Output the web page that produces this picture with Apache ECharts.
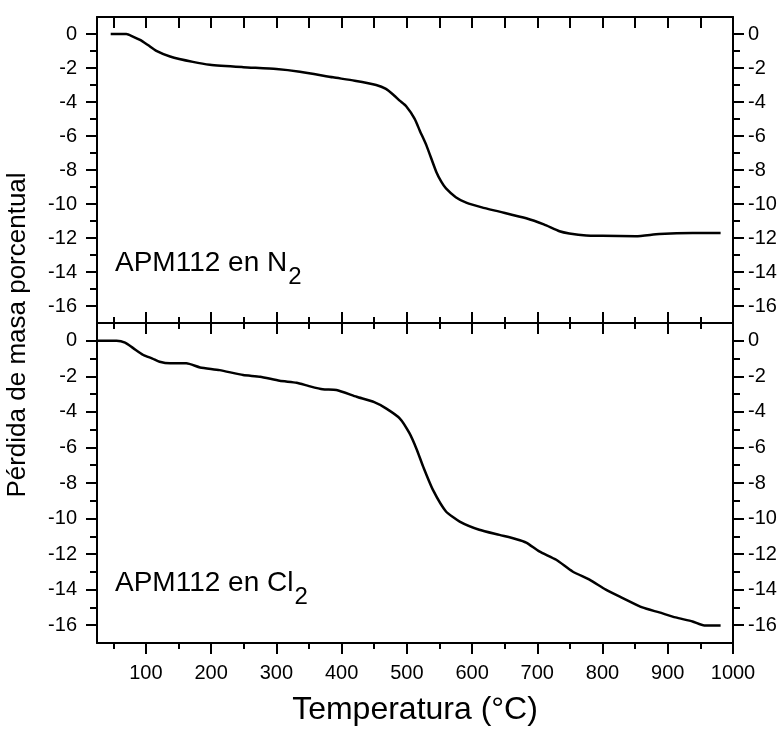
<!DOCTYPE html>
<html>
<head>
<meta charset="utf-8">
<script src="https://cdn.jsdelivr.net/npm/echarts@6/dist/echarts.min.js"></script>
<style>
  html, body { margin: 0; padding: 0; background: #fff; }
  #chart { width: 780px; height: 731px; }
</style>
</head>
<body>
<div id="chart"></div>
<script>
// datos
const tempN2 = [46, 70, 80, 91, 103, 116, 137, 172, 198, 249, 300, 336, 387, 420, 453, 468, 480, 489, 499, 512, 520, 530, 545, 553, 560, 575, 591, 615, 642, 683, 710, 734, 749, 775, 800, 851, 887, 938, 981];
const massN2 = [0, 0, -0.15, -0.35, -0.65, -0.99, -1.32, -1.64, -1.81, -1.95, -2.06, -2.22, -2.55, -2.75, -3.0, -3.23, -3.6, -3.92, -4.25, -4.99, -5.7, -6.55, -8.1, -8.7, -9.08, -9.6, -9.92, -10.2, -10.45, -10.84, -11.2, -11.6, -11.73, -11.85, -11.87, -11.9, -11.77, -11.71, -11.71];

const tempCl2 = [25, 55, 68, 80, 96, 110, 121, 137, 162, 183, 213, 249, 275, 305, 331, 350, 371, 392, 423, 450, 468, 489, 504, 515, 525, 540, 560, 581, 611, 642, 668, 683, 703, 729, 754, 780, 805, 831, 861, 887, 912, 938, 956, 981];
const massCl2 = [0, 0, -0.1, -0.4, -0.8, -1.0, -1.18, -1.27, -1.27, -1.5, -1.65, -1.93, -2.02, -2.25, -2.36, -2.55, -2.73, -2.77, -3.15, -3.45, -3.8, -4.36, -5.2, -6.1, -7.08, -8.39, -9.6, -10.17, -10.63, -10.92, -11.16, -11.35, -11.85, -12.32, -12.98, -13.44, -14.0, -14.47, -15.0, -15.28, -15.56, -15.79, -16.01, -16.01];

const xTicks = [100, 200, 300, 400, 500, 600, 700, 800, 900, 1000];
const xMinorTicks = [50, 150, 250, 350, 450, 550, 650, 750, 850, 950];
const yTicks = [0, -2, -4, -6, -8, -10, -12, -14, -16];
const yMinorTicks = [-1, -3, -5, -7, -9, -11, -13, -15];

const font = "'Liberation Sans', Arial, sans-serif";
const black = '#000';

const chart = echarts.init(document.getElementById('chart'));

function xAx(grid, pos, opts) {
  return {
    type: 'value',
    gridIndex: grid,
    position: pos,
    min: 25,
    max: 1000,
    splitLine: { show: false },
    axisLine: { show: !!opts.line, onZero: false, lineStyle: { color: black, width: 2 } },
    axisTick: {
      show: true,
      inside: !!opts.inside,
      length: opts.len,
      customValues: opts.ticks,
      lineStyle: { color: black, width: 2 }
    },
    axisLabel: opts.labels
      ? {
          show: true, customValues: xTicks, color: black, fontSize: 20, fontFamily: font, margin: 20,
          formatter: (v) => String(v)
        }
      : { show: false },
    ...(opts.extra || {})
  };
}

function yAx(grid, pos, opts) {
  return {
    type: 'value',
    gridIndex: grid,
    position: pos,
    min: -17,
    max: 1,
    splitLine: { show: false },
    axisLine: { show: !!opts.line, onZero: false, lineStyle: { color: black, width: 2 } },
    axisTick: {
      show: true,
      length: opts.len,
      customValues: opts.ticks,
      lineStyle: { color: black, width: 2 }
    },
    axisLabel: opts.labels
      ? { show: true, customValues: yTicks, color: black, fontSize: 20, fontFamily: font, margin: pos === 'left' ? 20 : 15 }
      : { show: false }
  };
}

const option = {
  backgroundColor: '#fff',
  animation: false,
  grid: [
    { left: 97, right: 47, top: 17, height: 306 },
    { left: 97, right: 47, top: 323, height: 320 }
  ],
  xAxis: [
    // panel superior
    xAx(0, 'top', { line: true, inside: true, len: 11, ticks: xTicks.concat(xMinorTicks) }),
    xAx(0, 'bottom', { line: true, len: 11, ticks: xTicks }),
    xAx(0, 'bottom', { len: 6, ticks: xMinorTicks }),
    // panel inferior
    xAx(1, 'top', { line: true, len: 11, ticks: xTicks }),
    xAx(1, 'top', { len: 6, ticks: xMinorTicks }),
    xAx(1, 'bottom', {
      line: true, len: 11, ticks: xTicks, labels: true,
      extra: {
        name: 'Temperatura (°C)',
        nameLocation: 'middle',
        nameGap: 51,
        nameTextStyle: { color: black, fontSize: 32, fontFamily: font }
      }
    }),
    xAx(1, 'bottom', { len: 6, ticks: xMinorTicks })
  ],
  yAxis: [
    yAx(0, 'left', { line: true, len: 11, ticks: yTicks, labels: true }),
    yAx(0, 'left', { len: 7, ticks: yMinorTicks }),
    yAx(0, 'right', { line: true, len: 11, ticks: yTicks, labels: true }),
    yAx(0, 'right', { len: 7, ticks: yMinorTicks }),
    yAx(1, 'left', { line: true, len: 11, ticks: yTicks, labels: true }),
    yAx(1, 'left', { len: 7, ticks: yMinorTicks }),
    yAx(1, 'right', { line: true, len: 11, ticks: yTicks, labels: true }),
    yAx(1, 'right', { len: 7, ticks: yMinorTicks })
  ],
  series: [
    {
      name: 'N2',
      type: 'line',
      xAxisIndex: 0,
      yAxisIndex: 0,
      data: tempN2.map((t, i) => [t, massN2[i]]),
      showSymbol: false,
      smooth: 0.2,
      lineStyle: { color: black, width: 2.5 }
    },
    {
      name: 'Cl2',
      type: 'line',
      xAxisIndex: 5,
      yAxisIndex: 4,
      data: tempCl2.map((t, i) => [t, massCl2[i]]),
      showSymbol: false,
      smooth: 0.2,
      lineStyle: { color: black, width: 2.5 }
    }
  ],
  graphic: [
    {
      type: 'text',
      left: 115,
      top: 249,
      style: {
        text: '{a|APM112 en N}{b|2}',
        rich: {
          a: { fontSize: 28, fontFamily: font, fill: black, verticalAlign: 'top' },
          b: { fontSize: 24, fontFamily: font, fill: black, verticalAlign: 'top', padding: [16, 0, 0, 1] }
        }
      }
    },
    {
      type: 'text',
      left: 115,
      top: 569,
      style: {
        text: '{a|APM112 en Cl}{b|2}',
        rich: {
          a: { fontSize: 28, fontFamily: font, fill: black, verticalAlign: 'top' },
          b: { fontSize: 24, fontFamily: font, fill: black, verticalAlign: 'top', padding: [16, 0, 0, 1] }
        }
      }
    },
    {
      type: 'text',
      x: 18,
      y: 335,
      rotation: Math.PI / 2,
      style: {
        text: 'Pérdida de masa porcentual',
        fontSize: 26,
        fontFamily: font,
        fill: black,
        align: 'center',
        verticalAlign: 'middle'
      }
    }
  ]
};

chart.setOption(option);
</script>
</body>
</html>
